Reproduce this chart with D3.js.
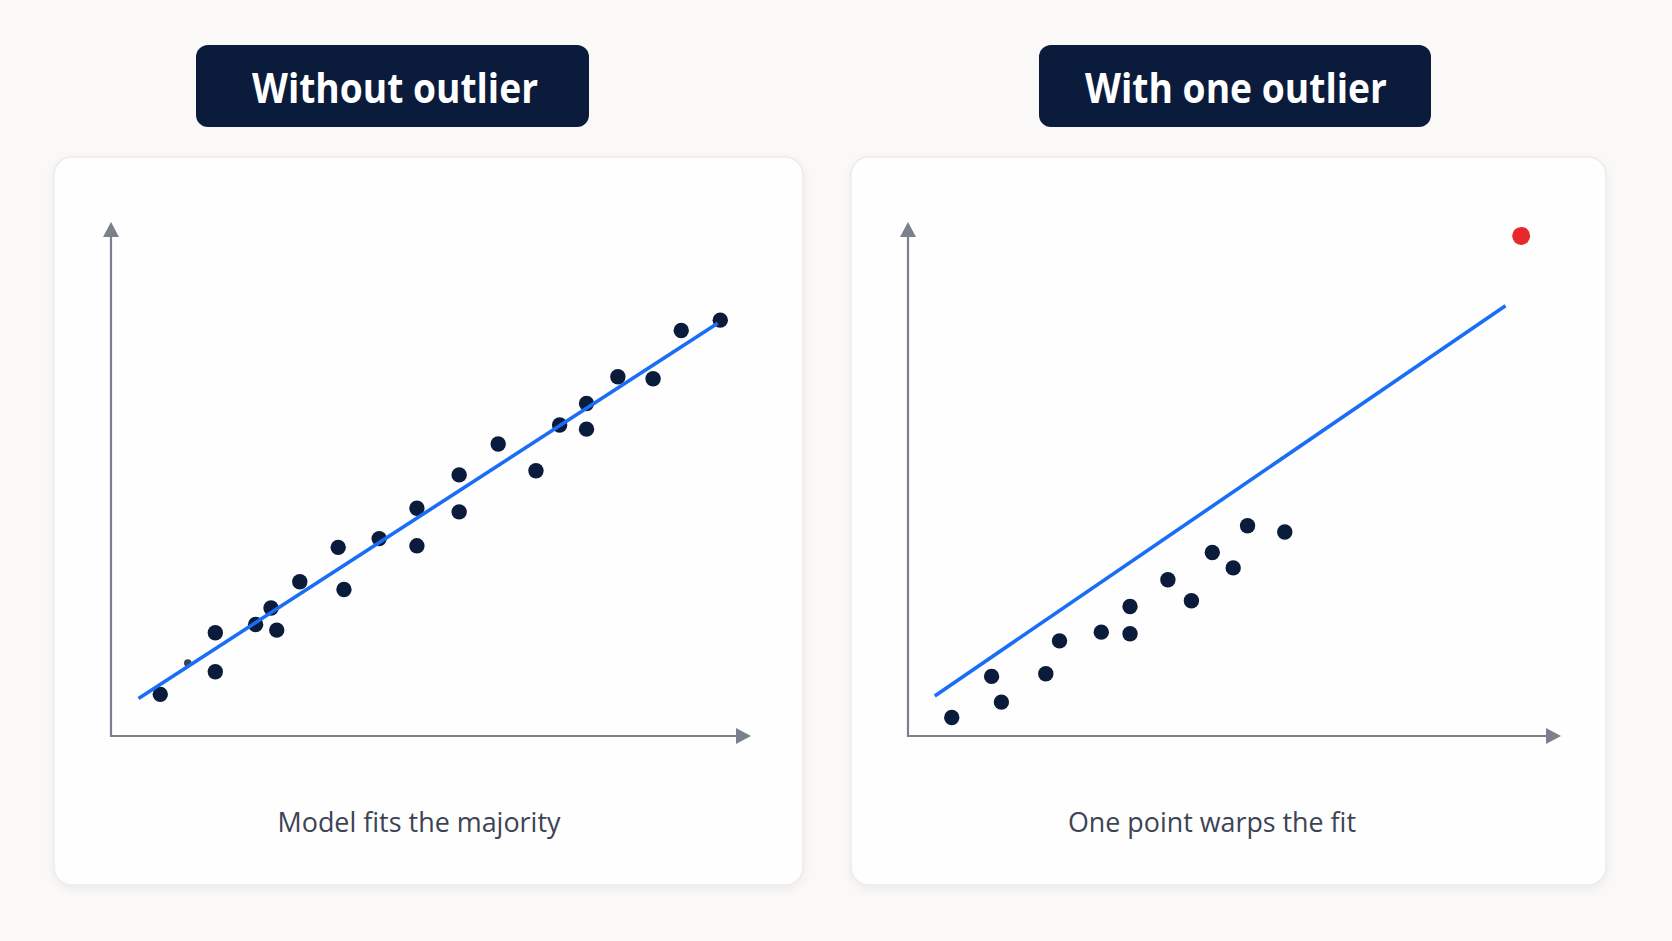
<!DOCTYPE html>
<html>
<head>
<meta charset="utf-8">
<script src="https://cdn.jsdelivr.net/npm/d3@7/dist/d3.min.js"></script>
<style>
  html, body { margin: 0; padding: 0; background: #faf9f7; }
  svg { display: block; }
</style>
</head>
<body>
<svg id="chart" width="1672" height="941"></svg>
<script>
// ---------- DATA ----------
const panelTitles = ["Without outlier", "With one outlier"];
const panelCaptions = ["Model fits the majority", "One point warps the fit"];

// Left panel: clean data (x, y in arbitrary units 0-100)
const leftX = [7.7, 16.3, 16.3, 22.6, 25.0, 25.9, 29.5, 35.5, 36.4, 41.9, 47.8, 47.8, 54.4, 54.4, 60.5, 66.4, 70.1, 74.3, 74.3, 79.2, 84.7, 89.1, 95.2];
const leftY = [8.1, 12.5, 20.1, 21.7, 24.9, 20.6, 30.0, 36.7, 28.5, 38.4, 44.3, 37.0, 50.8, 43.6, 56.8, 51.6, 60.5, 64.7, 59.7, 69.9, 69.5, 78.9, 80.9];
const leftTinyX = [12.0];
const leftTinyY = [14.2];
const leftFitX = [4.3, 94.8];
const leftFitY = [7.3, 80.3];

// Right panel: same trend plus one outlier
const rightX = [6.7, 12.8, 14.3, 21.1, 23.2, 29.6, 34.0, 34.0, 39.8, 43.4, 46.6, 49.8, 52.0, 57.7];
const rightY = [3.6, 11.6, 6.6, 12.1, 18.5, 20.2, 25.2, 19.9, 30.4, 26.3, 35.7, 32.7, 40.9, 39.7];
const outlierX = [93.9];
const outlierY = [97.3];
const rightFitX = [4.1, 91.5];
const rightFitY = [7.8, 83.7];

// ---------- LAYOUT ----------
const svg = d3.select("#chart");
const font = "'Open Sans', 'Noto Sans', sans-serif";
const navy = "#0b1b3b";
const axisCol = "#7b808c";
const blue = "#1a6ef5";

const defs = svg.append("defs");
const f = defs.append("filter").attr("id", "shadow").attr("x", "-10%").attr("y", "-10%").attr("width", "120%").attr("height", "120%");
f.append("feDropShadow").attr("dx", 0).attr("dy", 3).attr("stdDeviation", 4).attr("flood-color", "#000").attr("flood-opacity", 0.06);

const panels = [
  { card: [54, 157, 749, 728], title: [196, 45, 393, 82], titleCx: 395, titleW: 286,
    xRange: [111, 751], yRange: [736, 222], captionX: 419, captionW: 283,
    px: leftX, py: leftY, tinyX: leftTinyX, tinyY: leftTinyY, fitX: leftFitX, fitY: leftFitY,
    ox: [], oy: [] },
  { card: [851, 157, 755, 728], title: [1039, 45, 392, 82], titleCx: 1236, titleW: 302,
    xRange: [908, 1561], yRange: [736, 222], captionX: 1212, captionW: 288,
    px: rightX, py: rightY, tinyX: [], tinyY: [], fitX: rightFitX, fitY: rightFitY,
    ox: outlierX, oy: outlierY }
];

panels.forEach((p, i) => {
  const g = svg.append("g");
  // card
  g.append("rect")
    .attr("x", p.card[0]).attr("y", p.card[1])
    .attr("width", p.card[2]).attr("height", p.card[3])
    .attr("rx", 18).attr("fill", "#fefefe")
    .attr("stroke", "#ebebeb").attr("stroke-width", 1.5)
    .attr("filter", "url(#shadow)");

  // title pill
  g.append("rect")
    .attr("x", p.title[0]).attr("y", p.title[1])
    .attr("width", p.title[2]).attr("height", p.title[3])
    .attr("rx", 12).attr("fill", navy);
  g.append("text")
    .attr("x", p.titleCx).attr("y", 103)
    .attr("text-anchor", "middle")
    .attr("font-family", font).attr("font-weight", 700)
    .attr("font-size", 42).attr("fill", "#ffffff")
    .attr("textLength", p.titleW).attr("lengthAdjust", "spacingAndGlyphs")
    .text(panelTitles[i]);

  const x = d3.scaleLinear().domain([0, 100]).range(p.xRange);
  const y = d3.scaleLinear().domain([0, 100]).range(p.yRange);

  // axes with arrowheads
  const x0 = p.xRange[0], y0 = p.yRange[0];
  const xEnd = p.xRange[1], yEnd = p.yRange[1];
  const ah = 15, aw = 8;
  g.append("line").attr("x1", x0).attr("y1", y0).attr("x2", xEnd - ah + 1).attr("y2", y0)
    .attr("stroke", axisCol).attr("stroke-width", 2.2);
  g.append("line").attr("x1", x0).attr("y1", y0 + 1.1).attr("x2", x0).attr("y2", yEnd + ah - 1)
    .attr("stroke", axisCol).attr("stroke-width", 2.2);
  g.append("path").attr("d", `M${xEnd},${y0} L${xEnd - ah},${y0 - aw} L${xEnd - ah},${y0 + aw} Z`).attr("fill", axisCol);
  g.append("path").attr("d", `M${x0},${yEnd} L${x0 - aw},${yEnd + ah} L${x0 + aw},${yEnd + ah} Z`).attr("fill", axisCol);

  // tiny partially-hidden dots
  g.selectAll("circle.tiny").data(d3.range(p.tinyX.length)).enter().append("circle")
    .attr("class", "tiny")
    .attr("cx", d => x(p.tinyX[d])).attr("cy", d => y(p.tinyY[d]))
    .attr("r", 3.8).attr("fill", "#3a4356");

  // points
  g.selectAll("circle.pt").data(d3.range(p.px.length)).enter().append("circle")
    .attr("class", "pt")
    .attr("cx", d => x(p.px[d])).attr("cy", d => y(p.py[d]))
    .attr("r", 7.7).attr("fill", navy);

  // fit line
  const line = d3.line().x(d => x(p.fitX[d])).y(d => y(p.fitY[d]));
  g.append("path").datum([0, 1]).attr("d", line)
    .attr("stroke", blue).attr("stroke-width", 3.6).attr("fill", "none");

  // outlier
  g.selectAll("circle.out").data(d3.range(p.ox.length)).enter().append("circle")
    .attr("class", "out")
    .attr("cx", d => x(p.ox[d])).attr("cy", d => y(p.oy[d]))
    .attr("r", 9).attr("fill", "#e8292b");

  // caption
  g.append("text")
    .attr("x", p.captionX).attr("y", 832)
    .attr("text-anchor", "middle")
    .attr("font-family", font).attr("font-size", 27.5)
    .attr("fill", "#3d4355")
    .attr("textLength", p.captionW).attr("lengthAdjust", "spacingAndGlyphs")
    .text(panelCaptions[i]);
});
</script>
</body>
</html>
